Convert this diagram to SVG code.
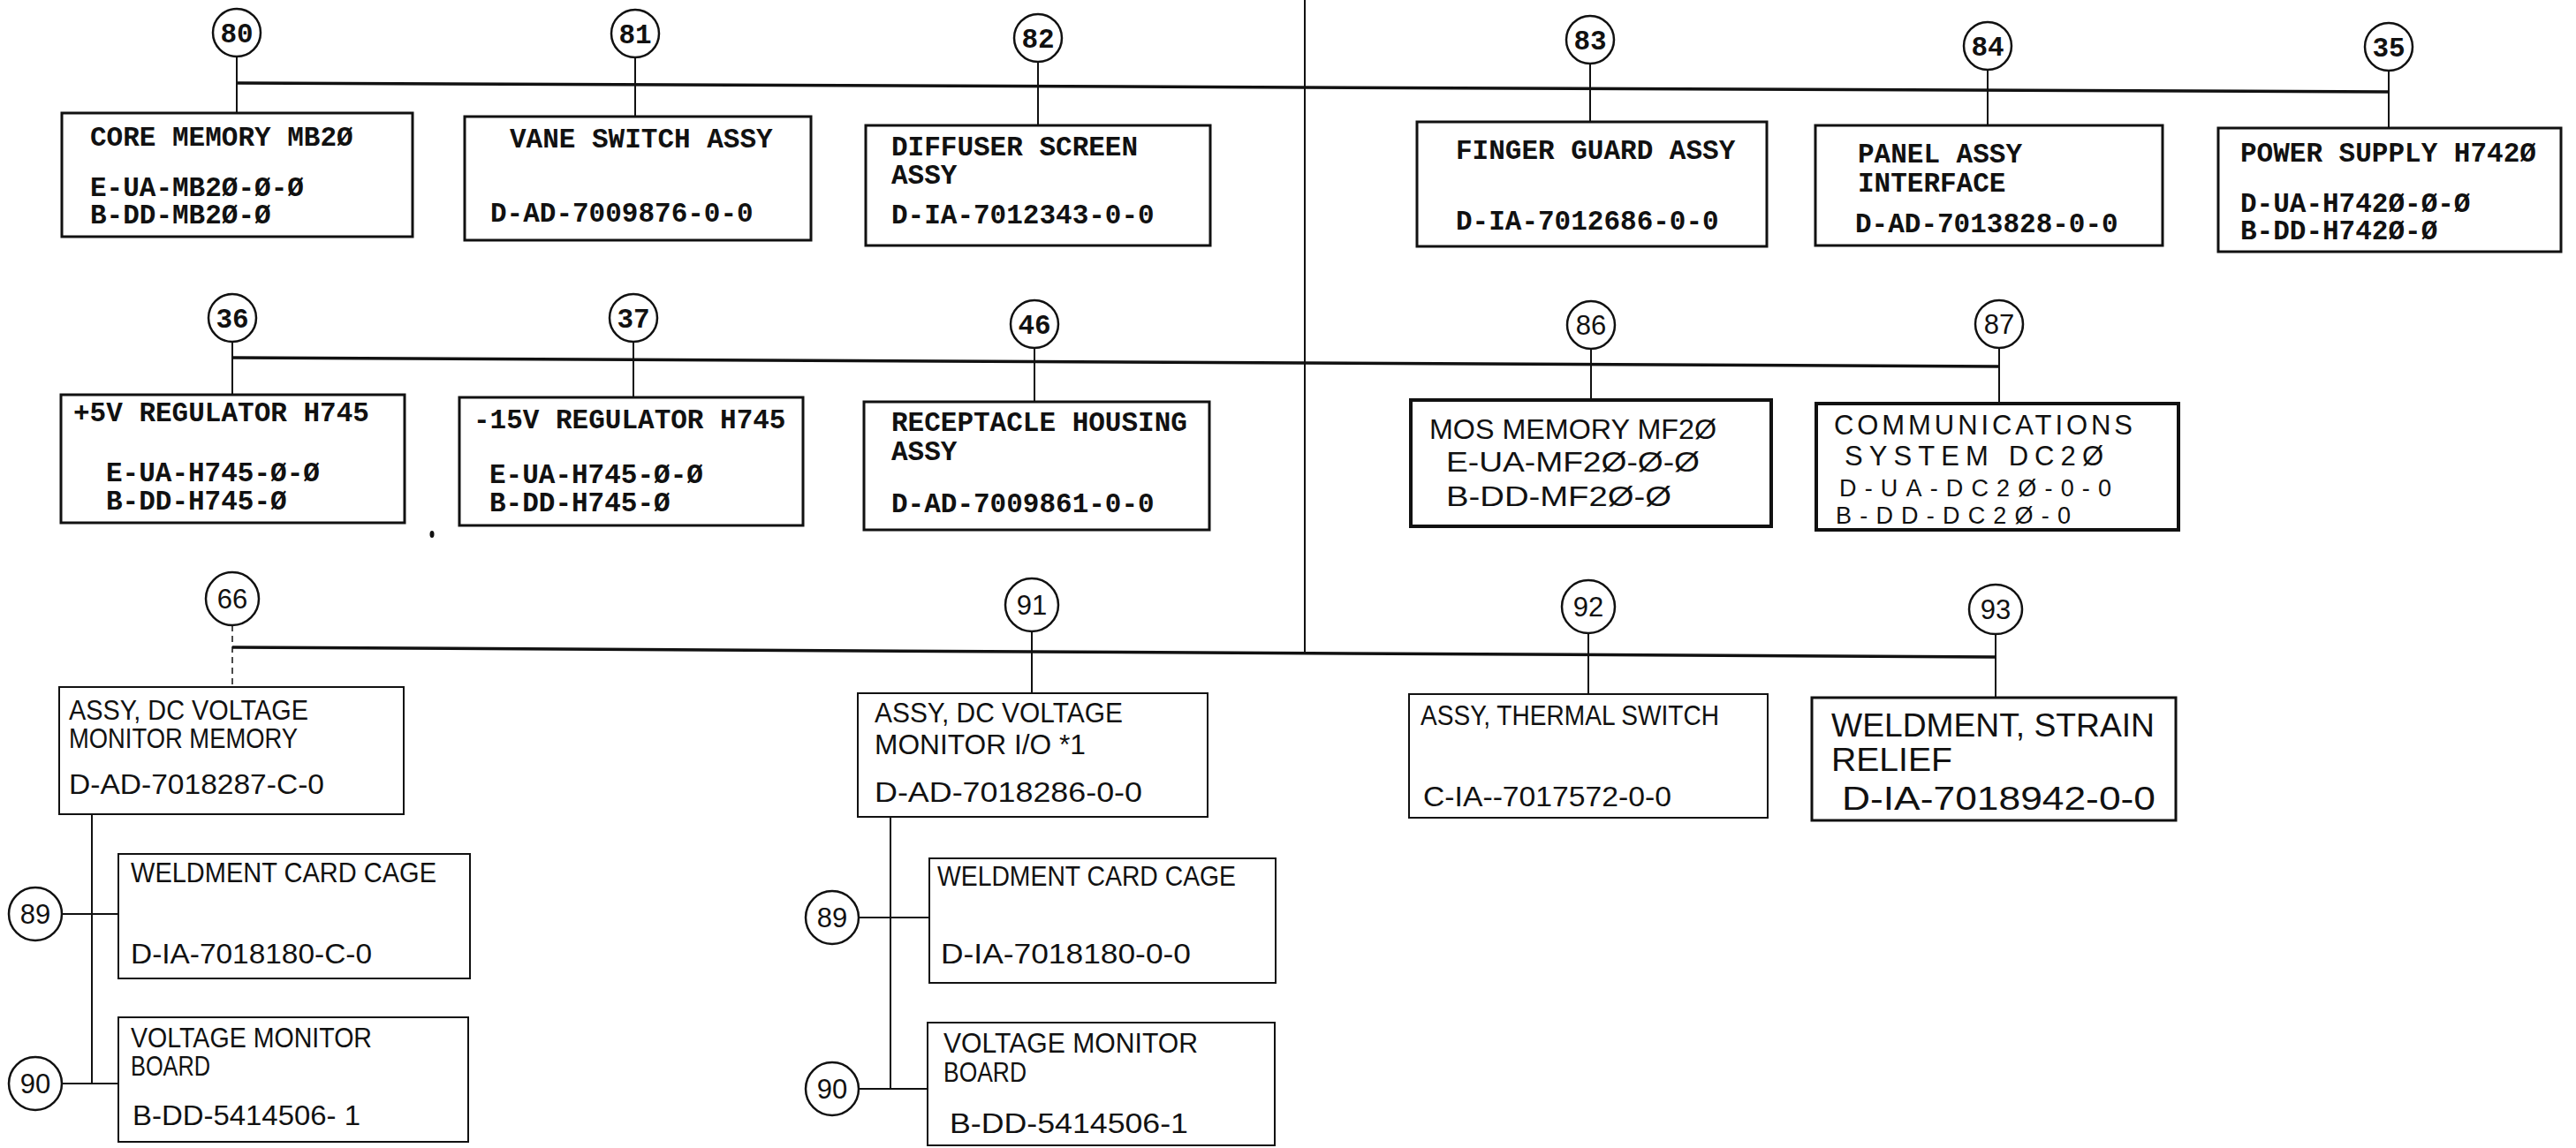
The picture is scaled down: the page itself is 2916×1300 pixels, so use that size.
<svg xmlns="http://www.w3.org/2000/svg" width="2916" height="1300" viewBox="0 0 2916 1300">
<style>
.bg{fill:#ffffff}
.box{fill:none;stroke:#111;stroke-width:3}
.boxb{fill:none;stroke:#111;stroke-width:4}
.boxt{fill:none;stroke:#111;stroke-width:2}
.cir{fill:#fff;stroke:#111;stroke-width:2.5}
.bus{fill:none;stroke:#111;stroke-width:3.5}
.ln{fill:none;stroke:#111;stroke-width:2}
.dash{fill:none;stroke:#111;stroke-width:1.5;stroke-dasharray:7 5}
.ty{font-family:"Liberation Mono","Courier New",monospace;font-size:31px;font-weight:bold;fill:#111}
.hd{font-family:"Liberation Sans",Arial,sans-serif;font-size:31px;fill:#111}
.hs{font-family:"Liberation Sans",Arial,sans-serif;font-size:27px;fill:#111}
.hn{font-family:"Liberation Sans",Arial,sans-serif;font-size:31px;fill:#111}
.hdl{font-family:"Liberation Sans",Arial,sans-serif;font-size:37px;fill:#111}
.num{text-anchor:middle}
</style>
<rect class="bg" x="0" y="0" width="2916" height="1300"/>

<g id="connectors">
  <line class="ln" x1="1477" y1="0" x2="1477" y2="739"/>
  <!-- row 1 -->
  <line class="bus" x1="268" y1="94" x2="2704" y2="104"/>
  <line class="ln" x1="268" y1="64" x2="268" y2="128"/>
  <line class="ln" x1="719" y1="65" x2="719" y2="132"/>
  <line class="ln" x1="1175" y1="70" x2="1175" y2="142"/>
  <line class="ln" x1="1800" y1="72" x2="1800" y2="138"/>
  <line class="ln" x1="2250" y1="79" x2="2250" y2="142"/>
  <line class="ln" x1="2704" y1="80" x2="2704" y2="145"/>
  <!-- row 2 -->
  <line class="bus" x1="263" y1="405" x2="2263" y2="415"/>
  <line class="ln" x1="263" y1="387" x2="263" y2="447"/>
  <line class="ln" x1="717" y1="387" x2="717" y2="450"/>
  <line class="ln" x1="1171" y1="394" x2="1171" y2="455"/>
  <line class="ln" x1="1801" y1="395" x2="1801" y2="453"/>
  <line class="ln" x1="2263" y1="394" x2="2263" y2="457"/>
  <!-- row 3 -->
  <line class="bus" x1="263" y1="733" x2="2259" y2="744"/>
  <line class="dash" x1="263" y1="708" x2="263" y2="778"/>
  <line class="ln" x1="1168" y1="715" x2="1168" y2="785"/>
  <line class="ln" x1="1798" y1="717" x2="1798" y2="786"/>
  <line class="ln" x1="2259" y1="718" x2="2259" y2="790"/>
  <!-- sub-assemblies left -->
  <line class="ln" x1="104" y1="922" x2="104" y2="1227"/>
  <line class="ln" x1="71" y1="1035" x2="134" y2="1035"/>
  <line class="ln" x1="71" y1="1227" x2="134" y2="1227"/>
  <!-- sub-assemblies middle -->
  <line class="ln" x1="1008" y1="925" x2="1008" y2="1233"/>
  <line class="ln" x1="972" y1="1039" x2="1052" y2="1039"/>
  <line class="ln" x1="972" y1="1233" x2="1050" y2="1233"/>
</g>

<!-- Row 1 -->
<g id="n80">
  <circle class="cir" cx="268" cy="37" r="27"/>
  <text class="ty num" x="268" y="48">80</text>
  <rect class="box" x="70" y="128" width="397" height="140"/>
  <text class="ty" x="102" y="165">CORE MEMORY MB2Ø</text>
  <text class="ty" x="102" y="222">E-UA-MB2Ø-Ø-Ø</text>
  <text class="ty" x="102" y="253">B-DD-MB2Ø-Ø</text>
</g>
<g id="n81">
  <circle class="cir" cx="719" cy="38" r="27"/>
  <text class="ty num" x="719" y="49">81</text>
  <rect class="box" x="526" y="132" width="392" height="140"/>
  <text class="ty" x="577" y="167">VANE SWITCH ASSY</text>
  <text class="ty" x="555" y="251">D-AD-7009876-0-0</text>
</g>
<g id="n82">
  <circle class="cir" cx="1175" cy="43" r="27"/>
  <text class="ty num" x="1175" y="54">82</text>
  <rect class="box" x="980" y="142" width="390" height="136"/>
  <text class="ty" x="1009" y="176">DIFFUSER SCREEN</text>
  <text class="ty" x="1009" y="208">ASSY</text>
  <text class="ty" x="1009" y="253">D-IA-7012343-0-0</text>
</g>
<g id="n83">
  <circle class="cir" cx="1800" cy="45" r="27"/>
  <text class="ty num" x="1800" y="56">83</text>
  <rect class="box" x="1604" y="138" width="396" height="141"/>
  <text class="ty" x="1648" y="180">FINGER GUARD ASSY</text>
  <text class="ty" x="1648" y="260">D-IA-7012686-0-0</text>
</g>
<g id="n84">
  <circle class="cir" cx="2250" cy="52" r="27"/>
  <text class="ty num" x="2250" y="63">84</text>
  <rect class="box" x="2055" y="142" width="393" height="136"/>
  <text class="ty" x="2103" y="184">PANEL ASSY</text>
  <text class="ty" x="2103" y="217">INTERFACE</text>
  <text class="ty" x="2100" y="263">D-AD-7013828-0-0</text>
</g>
<g id="n35">
  <circle class="cir" cx="2704" cy="53" r="27"/>
  <text class="ty num" x="2704" y="64">35</text>
  <rect class="box" x="2511" y="145" width="388" height="140"/>
  <text class="ty" x="2536" y="183">POWER SUPPLY H742Ø</text>
  <text class="ty" x="2536" y="240">D-UA-H742Ø-Ø-Ø</text>
  <text class="ty" x="2536" y="271">B-DD-H742Ø-Ø</text>
</g>

<!-- Row 2 -->
<g id="n36">
  <circle class="cir" cx="263" cy="360" r="27"/>
  <text class="ty num" x="263" y="371">36</text>
  <rect class="box" x="69" y="447" width="389" height="145"/>
  <text class="ty" x="83" y="477">+5V REGULATOR H745</text>
  <text class="ty" x="120" y="545">E-UA-H745-Ø-Ø</text>
  <text class="ty" x="120" y="577">B-DD-H745-Ø</text>
</g>
<g id="n37">
  <circle class="cir" cx="717" cy="360" r="27"/>
  <text class="ty num" x="717" y="371">37</text>
  <rect class="box" x="520" y="450" width="389" height="145"/>
  <text class="ty" x="536" y="485">-15V REGULATOR H745</text>
  <text class="ty" x="554" y="547">E-UA-H745-Ø-Ø</text>
  <text class="ty" x="554" y="579">B-DD-H745-Ø</text>
</g>
<ellipse cx="489" cy="605" rx="2.5" ry="4" fill="#111"/>
<g id="n46">
  <circle class="cir" cx="1171" cy="367" r="27"/>
  <text class="ty num" x="1171" y="378">46</text>
  <rect class="box" x="978" y="455" width="391" height="145"/>
  <text class="ty" x="1009" y="488">RECEPTACLE HOUSING</text>
  <text class="ty" x="1009" y="521">ASSY</text>
  <text class="ty" x="1009" y="580">D-AD-7009861-0-0</text>
</g>
<g id="n86">
  <circle class="cir" cx="1801" cy="368" r="27"/>
  <text class="hn num" x="1801" y="379">86</text>
  <rect class="boxb" x="1597" y="453" width="408" height="143"/>
  <text class="hd" x="1618" y="497" textLength="325" lengthAdjust="spacingAndGlyphs">MOS MEMORY MF2Ø</text>
  <text class="hd" x="1637" y="534" textLength="287" lengthAdjust="spacingAndGlyphs">E-UA-MF2Ø-Ø-Ø</text>
  <text class="hd" x="1637" y="573" textLength="255" lengthAdjust="spacingAndGlyphs">B-DD-MF2Ø-Ø</text>
</g>
<g id="n87">
  <circle class="cir" cx="2263" cy="367" r="27"/>
  <text class="hn num" x="2263" y="378">87</text>
  <rect class="boxb" x="2056" y="457" width="410" height="143"/>
  <text class="hd" x="2076" y="492" textLength="338" lengthAdjust="spacing">COMMUNICATIONS</text>
  <text class="hd" x="2088" y="527" textLength="293" lengthAdjust="spacing">SYSTEM  DC2Ø</text>
  <text class="hs" x="2082" y="562" textLength="308" lengthAdjust="spacing">D-UA-DC2Ø-0-0</text>
  <text class="hs" x="2078" y="593" textLength="266" lengthAdjust="spacing">B-DD-DC2Ø-0</text>
</g>

<!-- Row 3 -->
<g id="n66">
  <circle class="cir" cx="263" cy="678" r="30"/>
  <text class="hn num" x="263" y="689">66</text>
  <rect class="boxt" x="67" y="778" width="390" height="144"/>
  <text class="hd" x="78" y="815" textLength="271" lengthAdjust="spacingAndGlyphs">ASSY, DC VOLTAGE</text>
  <text class="hd" x="78" y="847" textLength="259" lengthAdjust="spacingAndGlyphs">MONITOR MEMORY</text>
  <text class="hd" x="78" y="899" textLength="289" lengthAdjust="spacingAndGlyphs">D-AD-7018287-C-0</text>
</g>
<g id="n89a">
  <circle class="cir" cx="40" cy="1035" r="30"/>
  <text class="hn num" x="40" y="1046">89</text>
  <rect class="boxt" x="134" y="967" width="398" height="141"/>
  <text class="hd" x="148" y="999" textLength="346" lengthAdjust="spacingAndGlyphs">WELDMENT  CARD CAGE</text>
  <text class="hd" x="148" y="1091" textLength="273" lengthAdjust="spacingAndGlyphs">D-IA-7018180-C-0</text>
</g>
<g id="n90a">
  <circle class="cir" cx="40" cy="1227" r="30"/>
  <text class="hn num" x="40" y="1238">90</text>
  <rect class="boxt" x="134" y="1152" width="396" height="141"/>
  <text class="hd" x="148" y="1186" textLength="273" lengthAdjust="spacingAndGlyphs">VOLTAGE MONITOR</text>
  <text class="hd" x="148" y="1218" textLength="90" lengthAdjust="spacingAndGlyphs">BOARD</text>
  <text class="hd" x="150" y="1274" textLength="258" lengthAdjust="spacingAndGlyphs">B-DD-5414506- 1</text>
</g>
<g id="n91">
  <circle class="cir" cx="1168" cy="685" r="30"/>
  <text class="hn num" x="1168" y="696">91</text>
  <rect class="boxt" x="971" y="785" width="396" height="140"/>
  <text class="hd" x="990" y="818" textLength="281" lengthAdjust="spacingAndGlyphs">ASSY, DC VOLTAGE</text>
  <text class="hd" x="990" y="854" textLength="239" lengthAdjust="spacingAndGlyphs">MONITOR I/O *1</text>
  <text class="hd" x="990" y="908" textLength="303" lengthAdjust="spacingAndGlyphs">D-AD-7018286-0-0</text>
</g>
<g id="n89b">
  <circle class="cir" cx="942" cy="1039" r="30"/>
  <text class="hn num" x="942" y="1050">89</text>
  <rect class="boxt" x="1052" y="972" width="392" height="141"/>
  <text class="hd" x="1061" y="1003" textLength="338" lengthAdjust="spacingAndGlyphs">WELDMENT CARD  CAGE</text>
  <text class="hd" x="1065" y="1091" textLength="283" lengthAdjust="spacingAndGlyphs">D-IA-7018180-0-0</text>
</g>
<g id="n90b">
  <circle class="cir" cx="942" cy="1233" r="30"/>
  <text class="hn num" x="942" y="1244">90</text>
  <rect class="boxt" x="1050" y="1158" width="393" height="139"/>
  <text class="hd" x="1068" y="1192" textLength="288" lengthAdjust="spacingAndGlyphs">VOLTAGE MONITOR</text>
  <text class="hd" x="1068" y="1225" textLength="94" lengthAdjust="spacingAndGlyphs">BOARD</text>
  <text class="hd" x="1075" y="1283" textLength="270" lengthAdjust="spacingAndGlyphs">B-DD-5414506-1</text>
</g>
<g id="n92">
  <circle class="cir" cx="1798" cy="687" r="30"/>
  <text class="hn num" x="1798" y="698">92</text>
  <rect class="boxt" x="1595" y="786" width="406" height="140"/>
  <text class="hd" x="1608" y="821" textLength="338" lengthAdjust="spacingAndGlyphs">ASSY, THERMAL SWITCH</text>
  <text class="hd" x="1611" y="913" textLength="281" lengthAdjust="spacingAndGlyphs">C-IA--7017572-0-0</text>
</g>
<g id="n93">
  <ellipse class="cir" cx="2259" cy="690" rx="30" ry="28"/>
  <text class="hn num" x="2259" y="701">93</text>
  <rect class="box" x="2051" y="790" width="412" height="139"/>
  <text class="hdl" x="2073" y="834" textLength="366" lengthAdjust="spacingAndGlyphs">WELDMENT, STRAIN</text>
  <text class="hdl" x="2073" y="873" textLength="137" lengthAdjust="spacingAndGlyphs">RELIEF</text>
  <text class="hdl" x="2085" y="917" textLength="355" lengthAdjust="spacingAndGlyphs">D-IA-7018942-0-0</text>
</g>
</svg>
